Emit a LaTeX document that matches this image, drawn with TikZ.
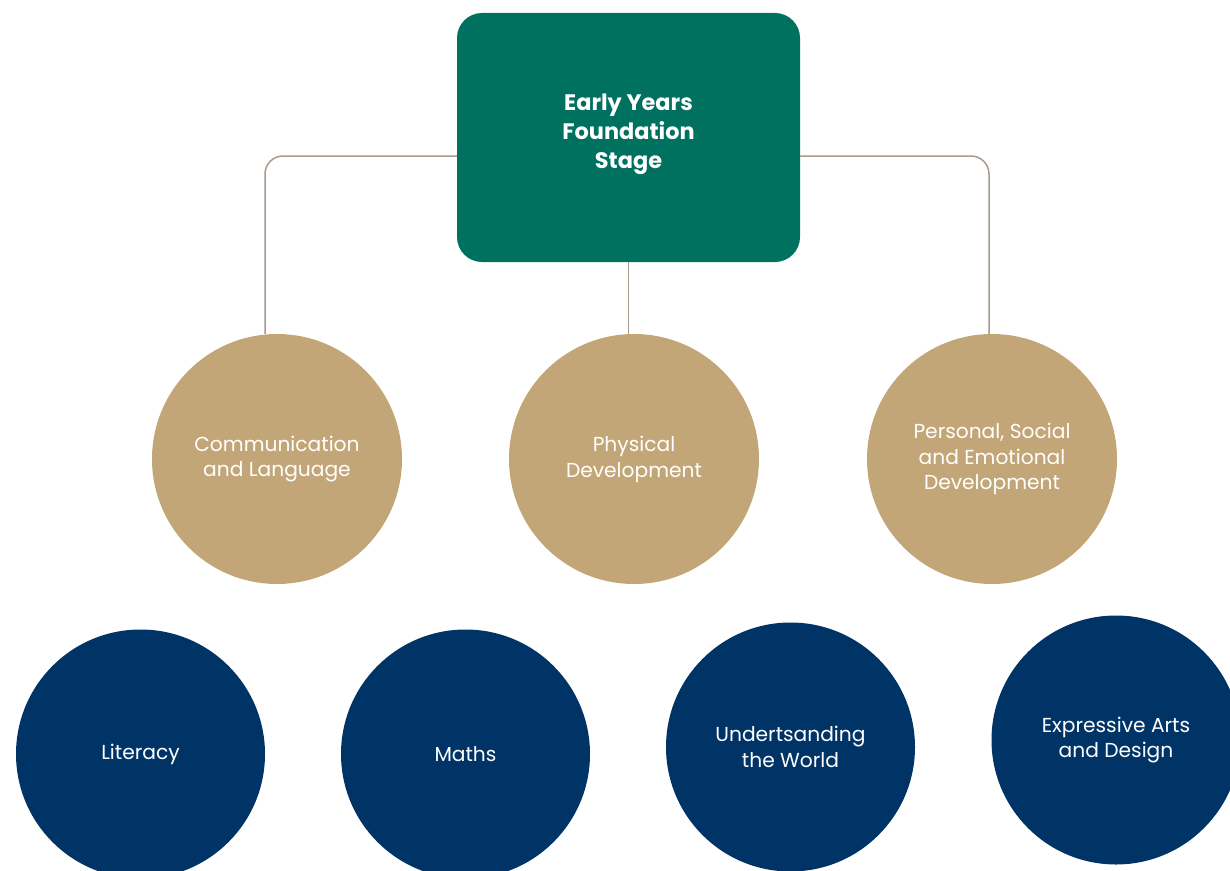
\documentclass[tikz,border=0pt]{standalone}
\usepackage{fontspec}
\setmainfont{Poppins}
\usetikzlibrary{calc}
\definecolor{eyfsgreen}{HTML}{00715F}
\definecolor{primetan}{HTML}{C3A677}
\definecolor{specblue}{HTML}{013466}
\definecolor{connline}{HTML}{A89A8C}
\begin{document}
\begin{tikzpicture}[x=1bp,y=-1bp,
  titlebox/.style={fill=eyfsgreen, rounded corners=25bp, minimum width=343bp, minimum height=249bp, inner sep=0pt},
  titletext/.style={text=white, align=center, inner sep=0pt, font=\fontsize{22.5}{29}\selectfont\bfseries},
  prime/.style={circle, fill=primetan, minimum size=250bp, inner sep=0pt, text=white, align=center, font=\fontsize{20.3}{26}\selectfont},
  spec/.style={circle, fill=specblue, minimum size=249bp, inner sep=0pt, text=white, align=center, font=\fontsize{20.3}{26}\selectfont},
  conn/.style={draw=connline, line width=1.5bp, rounded corners=18bp}]
\useasboundingbox (0,0) rectangle (1230,871);
\clip (0,0) rectangle (1230,871);
\node[titlebox] (top) at (628.5,137.5) {};
\node[titletext] (toptext) at (628.5,134.5) {Early Years\\Foundation\\Stage};
\node[prime] (c1) at (277,459) {Communication\\and Language};
\node[prime] (c2) at (634,459) {Physical\\Development};
\node[prime] (c3) at (992,459) {Personal, Social\\and Emotional\\Development};
\node[spec] (s1) at (140.5,754) {Literacy};
\node[spec] (s2) at (465.5,754) {Maths};
\node[spec] (s3) at (790.5,747) {Undertsanding\\the World};
\node[spec] (s4) at (1116,740) {Expressive Arts\\and Design};
\draw[conn] ([yshift=-18.5bp]top.west) -| ([xshift=-12bp]c1.north);
\draw[conn] ([yshift=-18.5bp]top.east) -| ([xshift=-3bp]c3.north);
\draw[conn] (top.south) -- (top.south |- c2.north);
\end{tikzpicture}
\end{document}
